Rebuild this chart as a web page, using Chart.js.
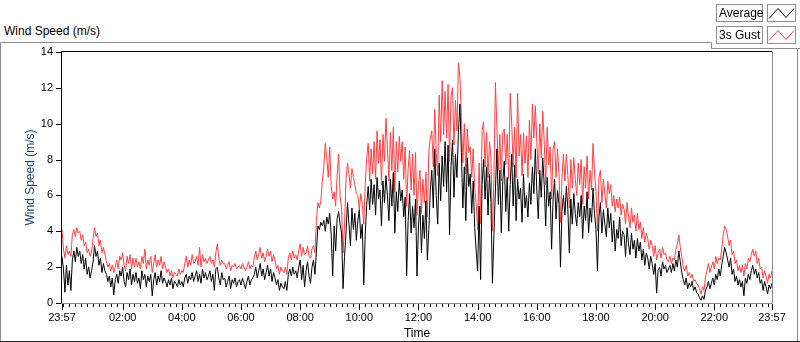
<!DOCTYPE html>
<html>
<head>
<meta charset="utf-8">
<script src="https://cdn.jsdelivr.net/npm/chart.js@4"></script>
<style>
  html, body { margin: 0; padding: 0; background: #fff; }
  #wrap { position: relative; width: 800px; height: 342px; }
  #title { position: absolute; left: 4px; top: 24px; font: 12px "Liberation Sans", Arial, sans-serif; color: #000; }
  canvas { position: absolute; left: 0; top: 0; }
</style>
</head>
<body>
<div id="wrap">
  <div id="title">Wind Speed (m/s)</div>
  <canvas id="windChart" width="800" height="342"></canvas>
</div>
<script>
// one sample every 3 minutes, starting 23:57 (one row = 30 min)
const STEP_MIN = 3;

const avgSpeed = [
  2.6, 1.9, 0.6, 2.1, 1.0, 1.8, 0.7, 2.4, 2.9, 2.3,
  3.1, 2.6, 2.9, 2.2, 2.7, 1.9, 2.5, 1.6, 2.0, 1.4,
  1.8, 2.3, 3.2, 2.6, 2.9, 2.1, 2.5, 1.7, 2.2, 1.8,
  1.6, 1.2, 1.5, 0.9, 1.4, 0.45, 1.3, 1.6, 1.1, 1.8,
  1.5, 2.0, 1.2, 0.9, 1.7, 1.3, 1.9, 1.0, 1.6, 1.2,
  1.7, 1.1, 1.4, 0.8, 1.8, 1.3, 1.6, 0.9, 1.5, 1.2,
  1.6, 0.4, 1.3, 1.7, 1.0, 1.5, 1.2, 1.8, 1.1, 1.4,
  1.2, 0.9, 1.3, 1.0, 1.4, 0.8, 1.2, 1.1, 0.9, 1.3,
  1.0, 1.2, 0.9, 1.4, 1.6, 1.1, 1.5, 1.3, 1.7, 1.2,
  1.5, 1.8, 1.2, 1.6, 1.1, 1.9, 1.4, 1.7, 1.3, 1.5,
  1.8, 1.2, 1.6, 0.7, 1.9, 2.0, 1.4, 1.0, 1.7, 1.3,
  1.4, 0.9, 1.2, 1.5, 0.8, 1.3, 1.1, 1.4, 0.9, 1.2,
  1.3, 1.0, 1.4, 1.1, 0.8, 1.2, 1.5, 1.0, 1.3, 1.4,
  1.6, 2.0, 1.4, 1.8, 2.2, 1.5, 1.9, 1.3, 1.7, 2.1,
  1.5, 1.9, 1.2, 1.7, 1.4, 1.0, 1.3, 0.7, 1.1, 0.9,
  0.8, 1.2, 0.7, 1.6, 1.9, 1.5, 2.0, 1.6, 1.8, 1.4,
  2.0, 2.4, 1.3, 2.1, 0.9, 1.8, 2.3, 1.5, 1.1, 2.0,
  2.4, 1.6, 2.9, 4.3, 4.1, 4.5, 4.3, 4.6, 4.0, 4.8,
  4.4, 5.0, 3.8, 1.5, 4.3, 2.9, 4.7, 5.1, 4.4, 3.9,
  0.8, 2.6, 3.9, 5.6, 4.4, 3.2, 5.3, 4.1, 5.0, 3.5,
  4.6, 5.2, 3.6, 4.4, 1.0, 3.8, 5.5, 6.5, 5.2, 6.9,
  5.5, 6.6, 4.9, 7.0, 5.8, 6.3, 4.3, 6.8, 5.6, 7.1,
  6.0, 4.6, 6.9, 5.4, 7.3, 3.9, 6.2, 5.1, 6.8, 5.7,
  6.3, 4.8, 5.9, 1.5, 4.6, 6.1, 3.9, 5.4, 4.2, 5.8,
  1.5, 4.3, 5.4, 2.8, 4.9, 3.6, 5.7, 2.4, 4.1, 6.3,
  7.4, 5.3, 8.6, 6.0, 4.4, 7.8, 5.7, 8.2, 6.5, 9.0,
  6.2, 8.8, 3.8, 7.6, 9.1, 5.9, 8.3, 7.0, 9.5, 11.1,
  8.4, 5.3, 7.6, 4.6, 8.1, 6.5, 7.2, 5.0, 6.8, 4.2,
  2.9, 1.8, 5.4, 1.3, 6.6, 8.0, 5.8, 7.6, 4.9, 7.2,
  5.6, 1.1, 3.8, 6.3, 8.6, 5.5, 7.4, 3.9, 6.8, 7.9,
  5.1, 7.0, 4.0, 6.6, 8.3, 5.4, 7.7, 4.6, 6.9, 5.8,
  6.4, 4.5, 7.2, 5.3, 6.0, 4.8, 6.7, 5.5, 7.6, 6.1,
  8.6, 6.3, 4.7, 7.4, 5.9, 8.1, 6.6, 4.3, 7.0, 5.4,
  6.2, 3.0, 5.8, 6.9, 4.7, 6.3, 5.5, 2.0, 5.1, 6.0,
  4.9, 6.5, 5.2, 2.8, 5.8, 4.4, 6.1, 5.0, 4.3, 5.6,
  4.8, 6.0, 3.6, 5.4, 4.6, 6.2, 3.9, 5.3, 4.5, 6.4,
  5.0, 4.1, 1.8, 4.8, 5.6, 3.9, 5.2, 4.4, 3.7, 5.3,
  4.2, 5.0, 3.4, 4.6, 2.9, 4.1, 3.6, 4.8, 3.2, 4.0,
  3.8, 2.6, 4.2, 3.3, 2.7, 3.9, 3.0, 3.5, 2.5, 3.6,
  2.9, 3.4, 2.4, 3.0, 2.1, 2.8, 2.5, 1.9, 2.6, 2.2,
  1.6, 2.2, 0.55, 1.8, 2.0, 1.5, 2.3, 1.9, 2.1, 1.7,
  1.9, 2.1, 1.7, 2.2, 1.8, 2.4, 2.0, 2.9, 2.3, 1.7,
  1.3, 1.0, 1.4, 0.8, 1.1, 0.9, 1.2, 0.7, 0.9, 0.6,
  0.5, 0.3, 0.15, 0.4, 0.2, 0.7, 0.9, 1.2, 0.8, 1.1,
  1.4, 1.0, 1.6, 1.3, 1.9, 1.5, 2.1, 2.6, 3.1, 2.8,
  2.4, 2.0, 2.5, 1.6, 1.9, 1.2, 1.5, 1.0, 1.3, 0.9,
  1.2, 0.4, 1.4, 1.1, 1.6, 1.3, 1.8, 2.1, 1.6, 1.9,
  1.4, 1.7, 1.1, 1.3, 0.7, 1.2, 0.9, 0.5, 1.0, 0.8,
  1.1
];

const gustSpeed = [
  4.1, 3.0, 2.5, 3.2, 2.7, 2.9, 2.6, 3.8, 4.1, 3.7,
  4.2, 3.9, 4.0, 3.5, 3.8, 3.2, 3.4, 2.8, 3.0, 2.6,
  2.9, 3.6, 4.2, 3.7, 3.9, 3.2, 3.5, 2.8, 3.1, 2.7,
  2.3, 2.0, 2.2, 1.8, 2.1, 1.7, 2.0, 2.4, 1.9, 2.6,
  2.4, 2.8, 2.1, 1.8, 2.6, 2.2, 2.7, 1.9, 2.5, 2.0,
  2.5, 2.0, 2.3, 1.9, 2.6, 2.2, 3.0, 1.9, 2.4, 2.1,
  2.6, 1.7, 2.2, 2.7, 2.0, 2.4, 2.1, 2.6, 1.9, 2.3,
  2.0, 1.7, 1.9, 1.5, 1.8, 1.4, 1.7, 1.6, 1.5, 1.9,
  1.6, 1.8, 1.7, 2.2, 2.6, 2.0, 2.4, 2.1, 2.7, 2.2,
  2.3, 2.6, 2.1, 3.1, 2.0, 2.7, 2.3, 2.5, 2.2, 2.4,
  2.6, 2.2, 2.4, 2.0, 2.8, 3.3, 2.5, 2.1, 2.4, 2.2,
  2.2, 1.9, 2.1, 2.3, 1.8, 2.1, 2.0, 2.2, 1.9, 2.0,
  2.1, 1.9, 2.2, 2.0, 1.8, 2.0, 2.3, 1.9, 2.1, 2.0,
  2.5, 2.9, 2.4, 2.7, 3.1, 2.5, 2.8, 2.3, 2.6, 3.0,
  2.6, 2.9, 2.3, 2.7, 2.4, 1.9, 2.1, 1.6, 2.0, 1.8,
  1.7, 2.0, 1.6, 2.5, 2.8, 2.4, 2.9, 2.5, 2.7, 2.4,
  2.9, 3.3, 2.6, 3.1, 2.7, 2.8, 3.2, 2.6, 2.5, 3.0,
  3.2, 2.8, 4.6, 5.6, 5.3, 5.7, 6.8, 7.6, 8.9, 8.1,
  7.0, 8.7, 6.5, 5.8, 6.2, 5.4, 7.1, 8.3, 6.0, 5.3,
  2.8, 4.3, 6.9, 7.8, 7.2, 6.4, 7.5, 7.0, 6.6, 6.1,
  6.0, 5.2, 6.1, 5.5, 4.4, 6.6, 8.1, 8.9, 6.8, 8.6,
  7.2, 9.0, 6.9, 9.6, 7.8, 9.1, 6.6, 9.4, 7.9, 10.3,
  8.6, 6.8, 9.5, 7.4, 9.8, 6.2, 9.0, 7.3, 9.3, 7.9,
  9.0, 6.9, 8.7, 5.4, 7.5, 8.5, 6.3, 8.3, 6.0, 8.4,
  4.9, 6.6, 7.4, 5.0, 6.9, 5.6, 7.3, 4.8, 8.5, 9.2,
  9.6, 7.6, 10.8, 8.4, 7.1, 11.6, 9.0, 12.4, 9.4, 11.8,
  9.2, 12.2, 7.9, 11.5, 12.0, 8.8, 11.3, 9.6, 13.4, 12.6,
  10.4, 7.8, 10.0, 7.2, 9.7, 8.4, 8.7, 7.0, 8.6, 6.4,
  5.6, 4.1, 7.8, 4.4, 9.6, 10.1, 7.6, 9.5, 7.0, 9.0,
  8.1, 4.0, 6.9, 12.3, 9.8, 7.4, 9.4, 6.8, 9.5, 9.7,
  7.7, 9.4, 6.9, 11.7, 10.1, 7.6, 9.8, 7.0, 11.7, 8.2,
  9.4, 7.1, 9.5, 7.8, 9.3, 7.0, 10.2, 8.0, 11.1, 9.2,
  11.0, 9.0, 7.2, 10.0, 8.1, 10.7, 9.0, 6.6, 9.8, 7.7,
  8.7, 5.8, 8.6, 9.0, 7.0, 8.6, 7.2, 4.5, 7.0, 8.3,
  6.8, 8.3, 7.1, 5.3, 8.0, 6.4, 8.1, 6.9, 6.0, 7.8,
  6.6, 8.0, 5.5, 7.6, 6.4, 8.2, 5.8, 7.4, 6.3, 8.9,
  7.3, 6.2, 4.0, 7.0, 7.4, 5.6, 6.9, 6.1, 5.3, 6.8,
  6.1, 6.6, 5.4, 6.0, 5.1, 5.8, 5.3, 5.9, 4.9, 5.5,
  5.2, 4.4, 5.6, 4.8, 4.2, 5.3, 4.5, 4.9, 4.0, 5.0,
  4.1, 4.5, 3.6, 4.2, 3.4, 3.9, 3.6, 3.0, 3.5, 3.2,
  2.6, 3.2, 2.4, 2.8, 3.0, 2.5, 3.1, 2.7, 2.8, 2.4,
  2.3, 2.6, 2.2, 2.5, 2.4, 3.0, 3.3, 3.8, 3.1, 2.6,
  2.0, 1.8, 2.1, 1.5, 1.7, 1.4, 1.6, 1.2, 1.3, 1.1,
  1.0, 0.8, 0.5, 0.9, 0.7, 1.4, 1.8, 2.2, 1.7, 2.0,
  2.3, 1.9, 2.6, 2.2, 2.5, 2.4, 3.0, 3.8, 4.3, 4.1,
  3.7, 3.2, 3.5, 2.7, 2.9, 2.2, 2.4, 1.8, 2.1, 1.7,
  2.1, 1.5, 2.2, 1.9, 2.5, 2.3, 2.7, 3.0, 2.6, 2.9,
  2.2, 2.5, 1.9, 2.0, 1.4, 1.8, 1.5, 1.1, 1.6, 1.4,
  1.8
];

// x axis labels: minutes after 23:57
const xLabelMinutes = [0, 123, 243, 363, 483, 603, 723, 843, 963, 1083, 1203, 1323, 1440];
const xLabelText = ['23:57', '02:00', '04:00', '06:00', '08:00', '10:00', '12:00',
                    '14:00', '16:00', '18:00', '20:00', '22:00', '23:57'];
const xMinorStart = 3, xMinorStep = 12;
const yTickValues = [0, 2, 4, 6, 8, 10, 12, 14];

const FONT = '"Liberation Sans", Arial, sans-serif';

const toPoints = arr => arr.map((v, i) => ({ x: i * STEP_MIN, y: v }));

// LabVIEW-style frame, tick marks, plot border and legend
const frameAndLegend = {
    id: 'frameAndLegend',
    beforeDraw(chart) {
        const c = chart.ctx;
        c.save();
        c.lineWidth = 1;
        c.strokeStyle = '#8c8c8c';
        c.beginPath();
        c.moveTo(0.5, 341); c.lineTo(0.5, 42.5); c.lineTo(711.5, 42.5);
        c.lineTo(711.5, 48.5); c.lineTo(800, 48.5);
        c.moveTo(797.5, 48.5); c.lineTo(797.5, 341);
        c.stroke();
        c.strokeStyle = '#222';
        c.beginPath();
        c.moveTo(0, 341.5); c.lineTo(800, 341.5);
        c.stroke();
        c.restore();
    },
    afterDraw(chart) {
        const c = chart.ctx;
        const a = chart.chartArea;
        const xs = chart.scales.x, ys = chart.scales.y;
        c.save();
        c.lineWidth = 1;
        // plot border
        c.strokeStyle = '#000';
        c.beginPath();
        c.moveTo(Math.round(a.left) - 0.5, Math.round(a.bottom));
        c.lineTo(Math.round(a.left) - 0.5, Math.round(a.top) - 0.5);
        c.lineTo(Math.round(a.right) + 0.5, Math.round(a.top) - 0.5);
        c.stroke();
        c.strokeStyle = '#8c8c8c';
        c.beginPath();
        c.moveTo(Math.round(a.right) + 0.5, Math.round(a.top));
        c.lineTo(Math.round(a.right) + 0.5, Math.round(a.bottom) + 0.5);
        c.lineTo(Math.round(a.left) - 1, Math.round(a.bottom) + 0.5);
        c.stroke();
        // x ticks
        c.strokeStyle = '#000';
        c.beginPath();
        const b = Math.round(a.bottom) + 1;
        for (let m = xMinorStart; m <= xs.max; m += xMinorStep) {
            const px = Math.round(xs.getPixelForValue(m)) + 0.5;
            const major = xLabelMinutes.includes(m);
            c.moveTo(px, b); c.lineTo(px, b + (major ? 6 : 3));
        }
        [0, xs.max].forEach(m => {
            const px = Math.round(xs.getPixelForValue(m)) + 0.5;
            c.moveTo(px, b); c.lineTo(px, b + 6);
        });
        // y ticks
        yTickValues.forEach(v => {
            const py = Math.round(ys.getPixelForValue(v)) + 0.5;
            c.moveTo(a.left - 6, py); c.lineTo(a.left - 1, py);
        });
        c.stroke();

        // legend
        c.font = '12px ' + FONT;
        c.textBaseline = 'middle';
        chart.data.datasets.forEach((ds, i) => {
            const top = 4.5 + i * 22;
            c.fillStyle = '#fff';
            c.fillRect(716.5, top, 46, 17);
            c.fillRect(767.5, top, 28, 17);
            c.strokeStyle = '#8c8c8c';
            c.strokeRect(716.5, top, 46, 17);
            c.strokeRect(767.5, top, 28, 17);
            c.fillStyle = '#000';
            c.fillText(ds.label, 719, top + 9);
            c.strokeStyle = ds.borderColor;
            c.beginPath();
            c.moveTo(769, top + 14); c.lineTo(778, top + 4);
            c.lineTo(786, top + 13); c.lineTo(794, top + 4);
            c.stroke();
        });
        c.restore();
    }
};

const ctx = document.getElementById('windChart').getContext('2d');

new Chart(ctx, {
    type: 'line',
    data: {
        datasets: [
            {
                label: 'Average',
                data: toPoints(avgSpeed),
                borderColor: '#000000',
                borderWidth: 1,
                pointRadius: 0,
                tension: 0
            },
            {
                label: '3s Gust',
                data: toPoints(gustSpeed),
                borderColor: '#ff4040',
                borderWidth: 1,
                pointRadius: 0,
                tension: 0
            }
        ]
    },
    options: {
        responsive: false,
        animation: false,
        events: [],
        layout: { padding: { left: 0, top: 52, right: 28, bottom: 0 } },
        plugins: {
            legend: { display: false },
            tooltip: { enabled: false }
        },
        scales: {
            x: {
                type: 'linear',
                min: 0,
                max: 1440,
                afterFit: s => { s.height = 39; },
                afterBuildTicks: s => { s.ticks = xLabelMinutes.map(v => ({ value: v })); },
                grid: { display: false, drawTicks: false },
                border: { display: false },
                ticks: {
                    autoSkip: false,
                    maxRotation: 0,
                    padding: 8,
                    color: '#000',
                    font: { family: FONT, size: 11 },
                    callback: v => xLabelText[xLabelMinutes.indexOf(v)]
                },
                title: {
                    display: true,
                    text: 'Time',
                    color: '#000',
                    font: { family: FONT, size: 12 },
                    padding: { top: 0, bottom: 1 }
                }
            },
            y: {
                min: 0,
                max: 14,
                afterFit: s => { s.width = 62; },
                afterBuildTicks: s => { s.ticks = yTickValues.map(v => ({ value: v })); },
                grid: { display: false, drawTicks: false },
                border: { display: false },
                ticks: {
                    padding: 9,
                    color: '#000',
                    font: { family: FONT, size: 11 }
                },
                title: {
                    display: true,
                    text: 'Wind Speed (m/s)',
                    color: '#1f3b6e',
                    font: { family: FONT, size: 12 },
                    padding: { top: 23, bottom: 0 }
                }
            }
        }
    },
    plugins: [frameAndLegend]
});
</script>
</body>
</html>
